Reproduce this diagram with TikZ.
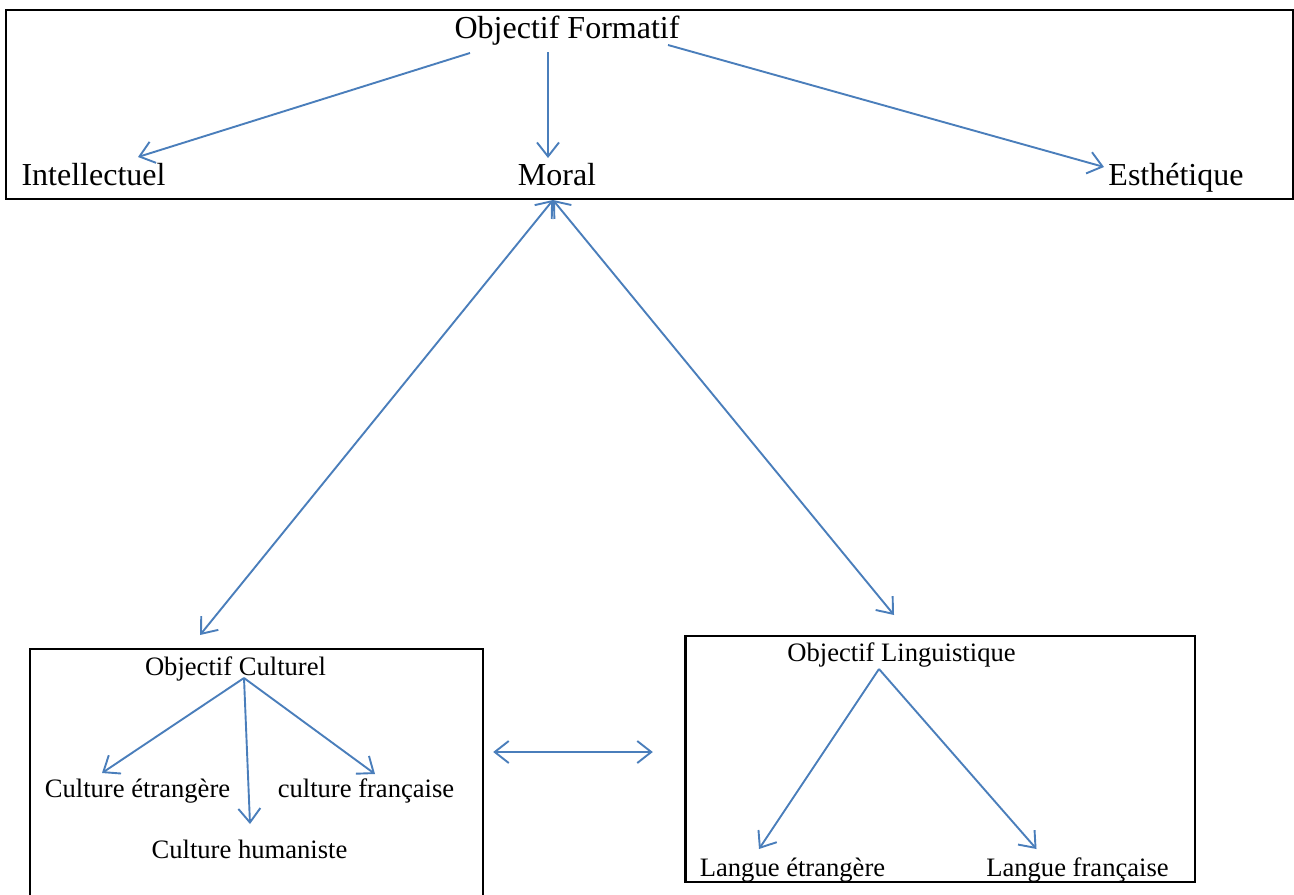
\documentclass[tikz,border=0pt]{standalone}
\usepackage{fontspec}
\setmainfont{Liberation Serif}
\usepackage{tikz}
\usetikzlibrary{arrows.meta, positioning, calc}
\usepackage{xcolor}
\definecolor{wordblue}{RGB}{74,126,187}

\begin{document}
\begin{tikzpicture}[
    x=0.5pt, y=-0.5pt,
    box/.style={rectangle, draw, line width=1.2pt, inner sep=0pt},
    big/.style={inner sep=0pt, anchor=base, font=\fontsize{16}{19}\selectfont},
    small/.style={inner sep=0pt, anchor=base, font=\fontsize{13.3}{16}\selectfont},
    arrow/.style={-{Straight Barb[length=7pt, width=11pt]}, draw=wordblue, line width=0.95pt},
    twoway/.style={{Straight Barb[length=7pt, width=11pt]}-{Straight Barb[length=7pt, width=11pt]}, draw=wordblue, line width=0.95pt}
]
\useasboundingbox (0,0) rectangle (1294,894);
\clip (0,0) rectangle (1294,894);

% boxes
\node[box, minimum width=643.5pt, minimum height=94.5pt] (topbox) at (649.5,104.5) {};
\node[box, minimum width=226.5pt, minimum height=130.5pt] (cbox) at (256.5,779.5) {};
\node[box, minimum width=254.75pt, minimum height=123pt] (lbox) at (940.25,759) {};

% top
\node[big] (form) at (567,39) {Objectif Formatif};
\node[big] (intel) at (93.5,185) {Intellectuel};
\node[big] (moral) at (557,185) {Moral};
\node[big] (esth) at (1176,185) {Esthétique};

% culturel
\node[small] (cult) at (235.5,675) {Objectif Culturel};
\node[small] (cetr) at (137.5,797) {Culture étrangère};
\node[small] (cfr) at (366,797) {culture française};
\node[small] (chum) at (249.5,858) {Culture humaniste};

% linguistique
\node[small] (ling) at (901.5,661) {Objectif Linguistique};
\node[small] (letr) at (792.5,876) {Langue étrangère};
\node[small] (lfr) at (1077.5,876) {Langue française};

\draw[arrow] ($(form.base)+(-97,14)$) -- ($(intel.base)+(44.5,-28)$);
\draw[arrow] ($(form.base)+(-19,13)$) -- ($(moral.base)+(-9,-27)$);
\draw[arrow] ($(form.base)+(101,6)$) -- ($(esth.base)+(-72,-18)$);

\draw[twoway] ($(moral.base)+(-4,15)$) -- ($(cult.base)+(-35.5,-40)$);
\draw[twoway] ($(moral.base)+(-4,15)$) -- ($(ling.base)+(-7.5,-46)$);

\draw[arrow] ($(cult.base)+(8.5,3)$) -- ($(cetr.base)+(-35.5,-24)$);
\draw[arrow] ($(cult.base)+(8.5,3)$) -- ($(chum.base)+(0.5,-34)$);
\draw[arrow] ($(cult.base)+(8.5,3)$) -- ($(cfr.base)+(9,-23)$);

\draw[arrow] ($(ling.base)+(-22.5,8)$) -- ($(letr.base)+(-33.5,-27)$);
\draw[arrow] ($(ling.base)+(-22.5,8)$) -- ($(lfr.base)+(-41,-27)$);

\draw[twoway] ($(cbox.east)+(9,-27.5)$) -- ($(lbox.west)+(-31.5,-7)$);
\end{tikzpicture}
\end{document}
